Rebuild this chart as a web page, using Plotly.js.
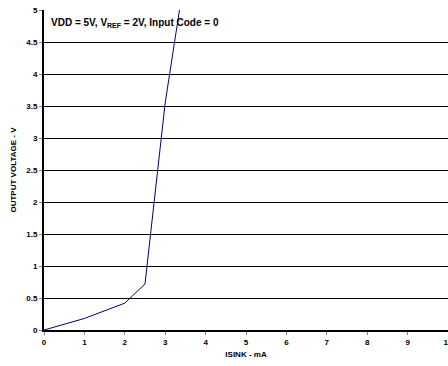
<!DOCTYPE html>
<html><head><meta charset="utf-8">
<script src="https://cdn.plot.ly/plotly-3.0.1.min.js"></script>
<style>html,body{margin:0;padding:0;background:#fff}</style>
</head><body><div id="chart" style="width:448px;height:366px"></div>
<script>
const isinkMA = [0, 1, 2, 2.5, 3, 3.5];
const outputV = [0, 0.18, 0.42, 0.72, 3.55, 5.6];
const xTicks = [0,1,2,3,4,5,6,7,8,9,10];
const yTicks = [0,0.5,1,1.5,2,2.5,3,3.5,4,4.5,5];
const yTickText = ["0","0.5","1","1.5","2","2.5","3","3.5","4","4.5","5"];
const FONT = "Arial, 'Liberation Sans', sans-serif";
Plotly.newPlot('chart', [{
  x: isinkMA, y: outputV, type: 'scatter', mode: 'lines',
  line: {color: '#000080', width: 1}, cliponaxis: true, hoverinfo: 'skip'
}], {
  width: 448, height: 366,
  margin: {l: 44, r: 0, t: 10, b: 36},
  paper_bgcolor: '#fff', plot_bgcolor: '#fff',
  font: {family: FONT, size: 8, color: '#000', weight: 'bold'},
  showlegend: false,
  xaxis: {
    range: [0, 10], tickvals: xTicks, ticktext: xTicks.map(String),
    ticklabeloverflow: 'allow',
    showgrid: false, zeroline: false,
    showline: true, linecolor: '#000', linewidth: 2,
    ticks: 'outside', ticklen: 3, tickcolor: '#888', tickwidth: 1,
    tickfont: {family: FONT, size: 8, weight: 'bold'},
    title: {text: 'ISINK - mA', font: {family: FONT, size: 8, weight: 'bold'}, standoff: 6}
  },
  yaxis: {
    range: [0, 5], tickvals: yTicks, ticktext: yTickText,
    showgrid: true, gridcolor: '#000', gridwidth: 1, zeroline: false,
    showline: true, linecolor: '#000', linewidth: 2,
    ticks: 'outside', ticklen: 3, tickcolor: '#888', tickwidth: 1,
    tickfont: {family: FONT, size: 8, weight: 'bold'},
    title: {text: 'OUTPUT VOLTAGE - V', font: {family: FONT, size: 8, weight: 'bold'}, standoff: 8}
  },
  annotations: [{
    text: 'VDD = 5V, V<sub>REF</sub> = 2V, Input Code = 0',
    xref: 'paper', yref: 'paper', x: 0.012, y: 0.985, xanchor: 'left', yanchor: 'top',
    showarrow: false, font: {family: FONT, size: 10, weight: 'bold', color: '#000'}
  }]
}, {staticPlot: true});
</script></body></html>
